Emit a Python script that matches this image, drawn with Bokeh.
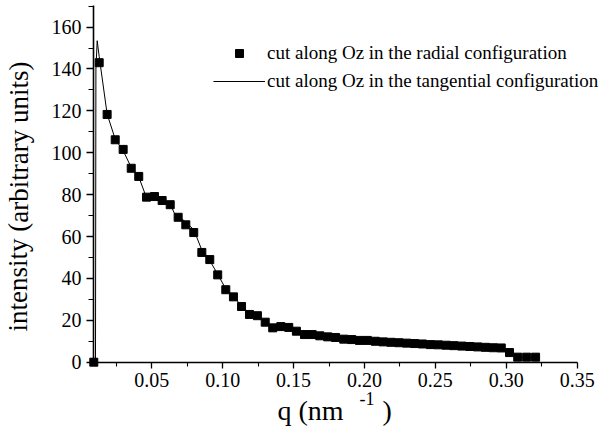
from bokeh.plotting import figure
from bokeh.models import (FixedTicker, Label, Legend, LegendItem, Range1d)
from bokeh.embed import file_html
from bokeh.resources import INLINE

# ---- data ----
q_radial = [0.0091, 0.0129, 0.0185, 0.0242, 0.0298, 0.0355, 0.0408, 0.0463, 0.0519,
            0.0573, 0.0630, 0.0686, 0.0740, 0.0796, 0.0853, 0.0909, 0.0965, 0.1022,
            0.1076, 0.1133, 0.1189, 0.1245, 0.1300, 0.1353, 0.1410, 0.1466, 0.1520,
            0.1577, 0.1631, 0.1685, 0.1741, 0.1796, 0.1854, 0.1910, 0.1965, 0.2020,
            0.2076, 0.2132, 0.2187, 0.2243, 0.2298, 0.2354, 0.2409, 0.2465, 0.2520,
            0.2576, 0.2631, 0.2687, 0.2743, 0.2798, 0.2853, 0.2909, 0.2965, 0.3023,
            0.3081, 0.3144, 0.3207]
i_radial = [0.0, 143.0, 118.3, 106.2, 101.6, 92.6, 88.7, 78.8, 79.1,
            77.2, 75.2, 69.2, 65.6, 61.9, 52.4, 49.0, 41.7, 34.6,
            31.2, 26.6, 22.8, 22.2, 19.1, 16.4, 17.0, 16.6, 14.8,
            13.2, 13.2, 12.6, 12.1, 11.8, 11.0, 10.8, 10.4, 10.4,
            10.0, 9.7, 9.5, 9.3, 9.1, 8.9, 8.7, 8.4, 8.3,
            8.1, 7.9, 7.7, 7.5, 7.3, 7.1, 6.9, 6.8, 4.6,
            2.4, 2.4, 2.4]

q_tangential = [0.0103, 0.0106, 0.0115, 0.0129, 0.0185, 0.0242, 0.0298, 0.0355, 0.0408,
                0.0463, 0.0519, 0.0573, 0.0630, 0.0660, 0.0686, 0.0740, 0.0796, 0.0853,
                0.0909, 0.0965, 0.1022, 0.1076, 0.1133, 0.1189, 0.1245, 0.1300, 0.1353,
                0.1410, 0.1466, 0.1520, 0.1577, 0.1631, 0.1685, 0.1741, 0.1796, 0.1854,
                0.1910, 0.1965, 0.2020, 0.2076, 0.2132, 0.2187, 0.2243, 0.2298, 0.2354,
                0.2409, 0.2465, 0.2520, 0.2576, 0.2631, 0.2687, 0.2743, 0.2798, 0.2853,
                0.2909, 0.2965, 0.3023, 0.3081, 0.3144, 0.3207]
i_tangential = [0.0, 140.0, 153.5, 146.0, 118.5, 106.5, 101.0, 93.0, 88.5,
                78.5, 79.0, 77.5, 75.5, 71.0, 70.0, 66.8, 63.3, 53.5,
                48.5, 42.0, 35.0, 31.5, 26.8, 23.0, 22.0, 19.3, 16.8,
                16.8, 16.4, 14.8, 13.4, 13.0, 12.6, 12.1, 11.8, 11.1,
                10.8, 10.4, 10.3, 10.0, 9.7, 9.5, 9.3, 9.1, 8.9,
                8.7, 8.4, 8.3, 8.1, 7.9, 7.7, 7.5, 7.3, 7.1,
                6.9, 6.8, 4.6, 2.4, 2.4, 2.4]

x_major = [0.05, 0.10, 0.15, 0.20, 0.25, 0.30, 0.35]
x_minor = [0.025, 0.075, 0.125, 0.175, 0.225, 0.275, 0.325]
x_tick_labels = ["0.05", "0.10", "0.15", "0.20", "0.25", "0.30", "0.35"]
y_major = [0, 20, 40, 60, 80, 100, 120, 140, 160]
y_minor = [10, 30, 50, 70, 90, 110, 130, 150, 170]
x_axis_span = (0.0089, 0.35)
y_axis_span = (0, 170.3)

legend_radial = "cut along Oz in the radial configuration"
legend_tangential = "cut along Oz in the tangential configuration"
y_title = "intensity (arbitrary units)"

FONT = "Liberation Serif"
W, H = 604, 435

p = figure(width=W, height=H,
           min_border_left=0, min_border_right=0, min_border_top=0, min_border_bottom=0,
           x_range=Range1d(-0.0567, 0.3693), y_range=Range1d(-35.0, 172.7),
           output_backend="svg", toolbar_location=None)
p.outline_line_color = None
p.xgrid.visible = False
p.ygrid.visible = False

for ax in (p.xaxis[0], p.yaxis[0]):
    ax.axis_line_width = 1.6
    ax.axis_line_color = "black"
    ax.major_tick_line_color = "black"
    ax.minor_tick_line_color = "black"
    ax.major_tick_line_width = 1.3
    ax.minor_tick_line_width = 1.1
    ax.major_tick_in = 0
    ax.minor_tick_in = 0
    ax.major_label_text_font = FONT
    ax.major_label_text_font_size = "20px"
    ax.major_label_text_color = "black"

p.xaxis.ticker = FixedTicker(ticks=x_major, minor_ticks=x_minor)
p.xaxis.major_label_overrides = {t: s for t, s in zip(x_major, x_tick_labels)}
p.xaxis.major_tick_out = 6
p.xaxis.minor_tick_out = 4
p.xaxis.major_label_standoff = 5
p.xaxis.fixed_location = 0
p.xaxis.bounds = x_axis_span

p.yaxis.ticker = FixedTicker(ticks=y_major, minor_ticks=y_minor)
p.yaxis.major_tick_out = 7
p.yaxis.minor_tick_out = 5
p.yaxis.major_label_standoff = 5
p.yaxis.fixed_location = x_axis_span[0]
p.yaxis.bounds = y_axis_span

line_r = p.line(q_tangential, i_tangential, line_color="black", line_width=1)
sq_r = p.scatter(q_radial, i_radial, marker="square", size=8,
                 fill_color="black", line_color="black")
sq_r.level = "overlay"

legend = Legend(items=[LegendItem(label=legend_radial, renderers=[sq_r]),
                       LegendItem(label=legend_tangential, renderers=[line_r])],
                location=(213, H - 92), orientation="vertical",
                glyph_width=52, glyph_height=20, label_height=20,
                label_standoff=2, spacing=6, padding=0, margin=0,
                border_line_alpha=0, background_fill_alpha=0,
                label_text_font=FONT, label_text_font_size="19px",
                label_text_color="black")
p.add_layout(legend, "center")

# axis titles (screen units from the bottom-left of the frame)
p.add_layout(Label(x=18, y=H - 196, x_units="screen", y_units="screen",
                   text=y_title, angle=1.5707963,
                   text_align="center", text_baseline="middle",
                   text_font=FONT, text_font_size="27px", text_color="black"))
p.add_layout(Label(x=277, y=H - 410, x_units="screen", y_units="screen",
                   text="q (nm", text_align="left", text_baseline="middle",
                   text_font=FONT, text_font_size="28px", text_color="black"))
p.add_layout(Label(x=359, y=H - 398, x_units="screen", y_units="screen",
                   text="-1", text_align="left", text_baseline="middle",
                   text_font=FONT, text_font_size="18px", text_color="black"))
p.add_layout(Label(x=382, y=H - 410, x_units="screen", y_units="screen",
                   text=")", text_align="left", text_baseline="middle",
                   text_font=FONT, text_font_size="28px", text_color="black"))

open("out.html", "w").write(file_html(p, INLINE))
